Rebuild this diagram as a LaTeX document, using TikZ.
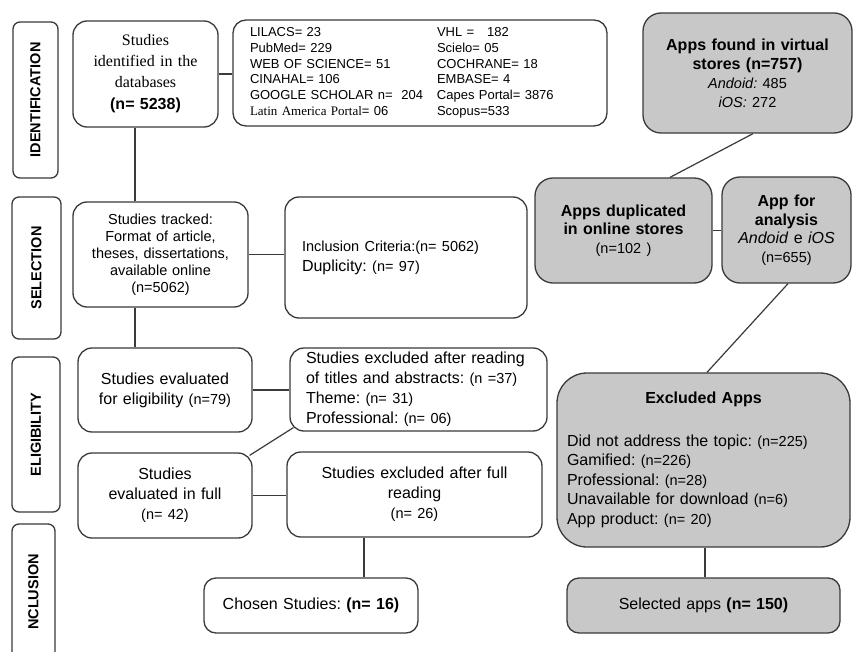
\documentclass[tikz,border=0pt]{standalone}
\usepackage{fontspec}
\setmainfont{Liberation Sans}
\newfontfamily\serifface{Liberation Serif}
\usepackage{xcolor}
\definecolor{edge}{HTML}{3A3A3A}
\definecolor{appgray}{HTML}{C8C8C8}
\newcommand\cnt[1]{{\fontsize{14.5}{17}\selectfont #1}}
\AtBeginDocument{\frenchspacing}
\tikzset{
  stagelbl/.style={rounded corners=7pt, draw=edge, line width=1.3pt, rotate=90,
              inner sep=0pt, font=\fontsize{14.5}{17}\selectfont\bfseries},
  studybox/.style={rounded corners=14pt, draw=edge, line width=1.3pt, fill=white,
              align=center, inner sep=2pt, font=\fontsize{16}{20}\selectfont},
  appbox/.style={studybox, fill=appgray, rounded corners=18pt},
  link/.style={draw=edge, line width=1.2pt},
}

\begin{document}
\begin{tikzpicture}[x=1pt,y=-1pt]
\clip (0,0) rectangle (853,652);
\fill[white] (0,0) rectangle (853,652);

% stage labels
\node[stagelbl, minimum width=156pt, minimum height=45pt] (lab1) at (35.5,100) {IDENTIFICATION};
\node[stagelbl, minimum width=142pt, minimum height=49pt] (lab2) at (36.5,268) {SELECTION};
\node[stagelbl, minimum width=155pt, minimum height=48pt] (lab3) at (36,434.5) {ELIGIBILITY};
\node[stagelbl, minimum width=136pt, minimum height=43pt] (lab4) at (33.5,592) {NCLUSION};

% studies column
\node[studybox, minimum width=145pt, minimum height=106pt, text width=138pt,
      font=\fontsize{16}{21}\selectfont] (idn) at (145.5,74)
  {\serifface Studies\\identified in the\\databases\\[1pt]\rmfamily\textbf{(n= 5238)}};
\node[studybox, rounded corners=13pt, minimum width=374pt, minimum height=106pt,
      text width=340pt, align=left, font=\fontsize{13}{15.7}\selectfont] (dbs) at (420,73)
  {\begin{tabular}{@{}p{187pt}@{}l@{}}
   LILACS= 23 & VHL = \ \ 182\\
   PubMed= 229 & Scielo= 05\\
   WEB OF SCIENCE= 51 & COCHRANE= 18\\
   CINAHAL= 106 & EMBASE= 4\\
   GOOGLE SCHOLAR n=\ \ 204 & Capes Portal= 3876\\
   {\serifface Latin America Portal}= 06 & Scopus=533
   \end{tabular}};
\node[studybox, minimum width=175pt, minimum height=105pt, text width=165pt,
      font=\fontsize{14.5}{17}\selectfont] (trk) at (160.5,254.5)
  {Studies tracked:\\Format of article,\\theses, dissertations,\\available online\\(n=5062)};
\node[studybox, minimum width=242pt, minimum height=121pt, text width=208pt, align=left] (incl) at (406,257.5)
  {{\fontsize{14.5}{17}\selectfont Inclusion Criteria:(n= 5062)}\\Duplicity: \cnt{(n= 97)}};
\node[studybox, minimum width=174pt, minimum height=84pt, text width=165pt] (elig) at (165,390)
  {Studies evaluated\\for eligibility \cnt{(n=79)}};
\node[studybox, minimum width=257pt, minimum height=83pt, text width=225pt, align=left] (ex1) at (418.5,389.5)
  {Studies excluded after reading\\of titles and abstracts: \cnt{(n =37)}\\Theme: \cnt{(n= 31)}\\Professional: \cnt{(n= 06)}};
\node[studybox, minimum width=174pt, minimum height=85pt, text width=165pt] (full) at (165,495.5)
  {Studies\\evaluated in full\\\cnt{(n= 42)}};
\node[studybox, minimum width=255pt, minimum height=85pt, text width=230pt] (ex2) at (414.5,494.5)
  {Studies excluded after full\\reading\\\cnt{(n= 26)}};
\node[studybox, rounded corners=12pt, minimum width=214pt, minimum height=55pt, text width=205pt] (chosen) at (311,605.5)
  {Chosen Studies: \textbf{(n= 16)}};

% apps column
\node[appbox, minimum width=209pt, minimum height=120pt, text width=200pt,
      font=\fontsize{16}{19}\selectfont] (found) at (747.5,73)
  {\textbf{Apps found in virtual}\\\textbf{stores (n=757)}\\\cnt{\textit{Andoid:} 485}\\\cnt{\textit{iOS:} 272}};
\node[appbox, minimum width=177pt, minimum height=105pt, text width=170pt,
      font=\fontsize{16}{18.5}\selectfont] (dup) at (623.5,230.5)
  {\textbf{Apps duplicated}\\\textbf{in online stores}\\\cnt{(n=102 )}};
\node[appbox, minimum width=129pt, minimum height=106pt, text width=122pt,
      font=\fontsize{16}{18.5}\selectfont] (anl) at (786.5,230)
  {\textbf{App for}\\\textbf{analysis}\\\textit{Andoid} e \textit{iOS}\\\cnt{(n=655)}};
\node[appbox, rounded corners=30pt, minimum width=293pt, minimum height=174pt, text width=273pt,
      align=left, font=\fontsize{16}{19.5}\selectfont] (exapp) at (703.5,460)
  {\centering\textbf{Excluded Apps}\par\vspace{23pt}\raggedright
   Did not address the topic: \cnt{(n=225)}\\Gamified: \cnt{(n=226)}\\Professional: \cnt{(n=28)}\\
   Unavailable for download \cnt{(n=6)}\\App product: \cnt{(n= 20)}};
\node[appbox, rounded corners=12pt, minimum width=273pt, minimum height=55pt, text width=260pt] (selapp) at (703.5,605.5)
  {Selected apps \textbf{(n= 150)}};

% connectors
\draw[link] (idn.east) -- (idn.east -| dbs.west);
\draw[link] ([xshift=-10.5pt]idn.south) -- ([xshift=-10.5pt]idn.south |- trk.north);
\draw[link] (trk.east) -- (trk.east -| incl.west);
\draw[link] ([xshift=-25.5pt]trk.south) -- ([xshift=-25.5pt]trk.south |- elig.north);
\draw[link] (elig.east) -- (elig.east -| ex1.west);
\draw[link] ([shift={(4pt,4pt)}]ex1.south west) -- ([shift={(-3pt,-3pt)}]full.north east);
\draw[link] (full.east) -- (full.east -| ex2.west);
\draw[link] ([xshift=-50.5pt]ex2.south) -- ([xshift=-50.5pt]ex2.south |- chosen.north);
\draw[link] ([xshift=5.5pt]found.south) -- ([xshift=46.5pt]dup.north);
\draw[link] (dup.east) -- (dup.east -| anl.west);
\draw[link] ([xshift=1.5pt]anl.south) -- ([xshift=3.5pt]exapp.north);
\draw[link] ([xshift=1.5pt]exapp.south) -- ([xshift=1.5pt]exapp.south |- selapp.north);
\end{tikzpicture}
\end{document}
